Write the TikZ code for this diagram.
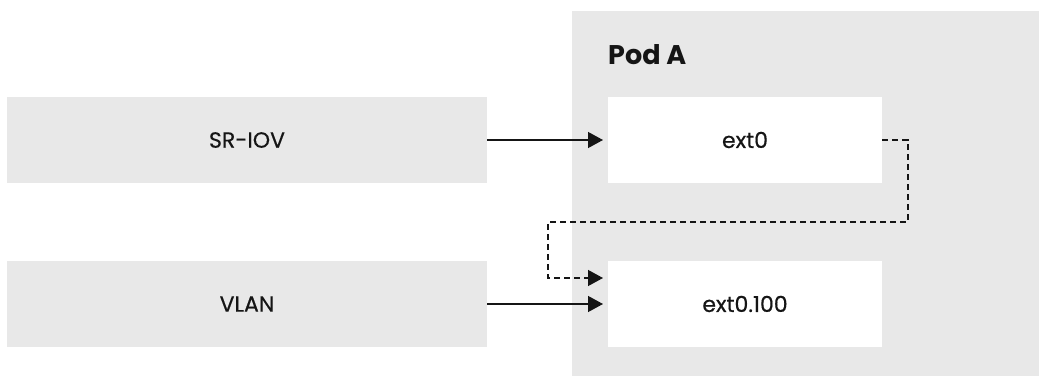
\documentclass[tikz,border=0pt]{standalone}
\usepackage{fontspec}
\setmainfont{Poppins}
\newfontfamily\labelfont{Poppins}[FakeBold=0.5]
\usetikzlibrary{arrows.meta}
\definecolor{boxgray}{HTML}{E8E8E8}
\definecolor{ink}{HTML}{151515}
\begin{document}
\begin{tikzpicture}[x=1pt,y=-1pt,
  outerbox/.style={fill=boxgray, draw=none, minimum width=480pt, minimum height=86pt, inner sep=0pt, font=\labelfont\fontsize{22}{26}\selectfont, text=ink},
  ifbox/.style={fill=white, draw=none, minimum width=274pt, minimum height=86pt, inner sep=0pt, font=\labelfont\fontsize{22}{26}\selectfont, text=ink},
  arr/.style={draw=ink, line width=1.3pt, -{Triangle[length=15pt,width=16pt]}},
  dasharr/.style={arr, dash pattern=on 6pt off 4pt}]
\useasboundingbox (0,0) rectangle (1039,376);
\fill[white] (0,0) rectangle (1039,376);
\node[fill=boxgray, draw=none, minimum width=467pt, minimum height=365pt, inner sep=0pt] (pod) at (805.5,193.5) {};
\node[anchor=west, inner sep=0pt, text=ink, font=\fontsize{27}{30}\selectfont\bfseries] (podlabel) at (608,55) {Pod A};
\node[outerbox] (sriov) at (247,140) {SR-IOV};
\node[outerbox] (vlan) at (247,304) {VLAN};
\node[ifbox] (ext0) at (745,140) {ext0};
\node[ifbox] (ext100) at (745,304) {ext0.100};
\coordinate (t1) at (603,140);
\coordinate (t2) at (603,304);
\coordinate (t3) at (603,278);
\coordinate (d1) at (908,222);
\coordinate (d2) at (548,222);
\draw[arr] (sriov.east) -- (t1);
\draw[arr] (vlan.east) -- (t2);
\draw[dasharr] (ext0.east) -| (d1) -- (d2) |- (t3);
\end{tikzpicture}
\end{document}
